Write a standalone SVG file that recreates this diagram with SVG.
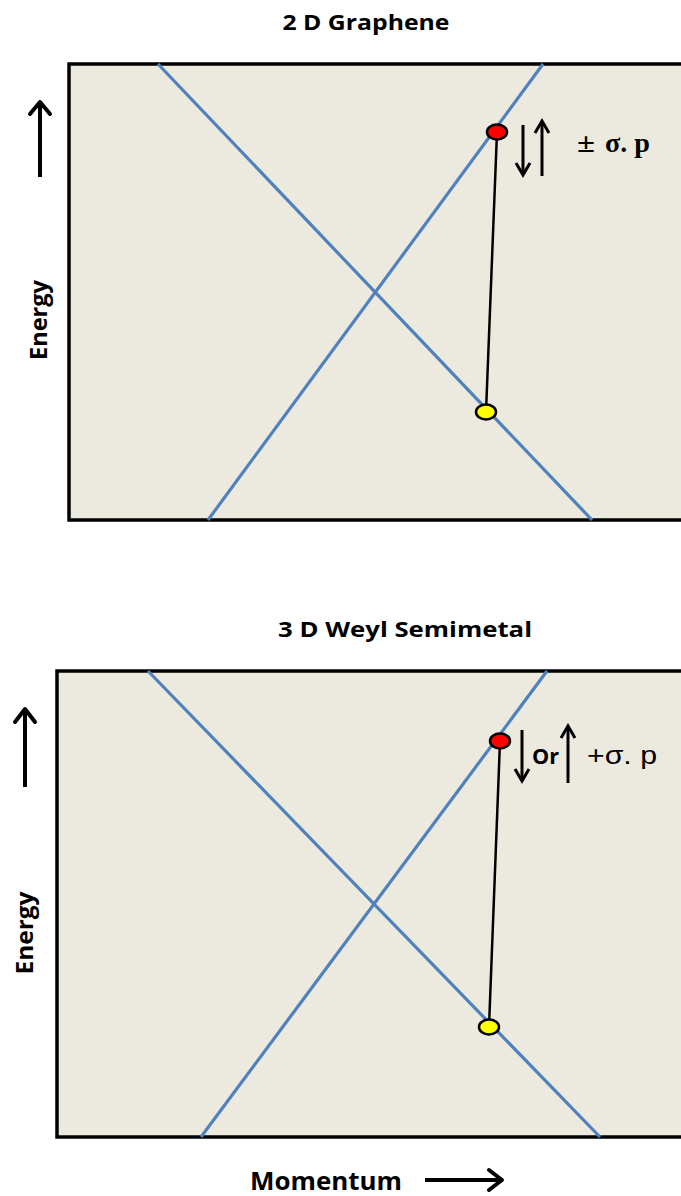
<svg xmlns="http://www.w3.org/2000/svg" width="681" height="1196" viewBox="0 0 681 1196">
<style>
.panel{fill:#ECE9DF;stroke:#000;stroke-width:3.5}
.band{stroke:#4F81BD;stroke-width:3.2;fill:none}
.ax{stroke:#000;stroke-width:4;fill:none}
.axh{stroke:#000;stroke-width:4;fill:none;stroke-linecap:round;stroke-linejoin:round}
.sp{stroke:#000;stroke-width:3;fill:none}
.sph{stroke:#000;stroke-width:3;fill:none;stroke-linejoin:miter}
.link{stroke:#000;stroke-width:2.5;fill:none}
.t{font-family:"Open Sans","Liberation Sans",sans-serif;font-weight:bold;fill:#000}
</style>

<g id="panel-graphene">
<rect class="panel" x="69" y="64" width="640" height="456"/>
<text class="t" x="366" y="30" font-size="22" text-anchor="middle" textLength="167" lengthAdjust="spacingAndGlyphs">2 D Graphene</text>
</g>
<g id="bands-graphene">
<line class="band" x1="158" y1="64" x2="592" y2="520"/>
<line class="band" x1="208" y1="520" x2="543" y2="64"/>
</g>
<g id="axis-energy-top">
<line class="ax" x1="40" y1="177" x2="40" y2="104"/>
<path class="axh" d="M30,114 L40,102 L50,114"/>
<text class="t" font-size="24" text-anchor="middle" textLength="80" lengthAdjust="spacingAndGlyphs" transform="translate(47,320) rotate(-90)">Energy</text>
</g>

<g id="panel-weyl">
<rect class="panel" x="57" y="671" width="650" height="466"/>
<text class="t" x="405" y="637" font-size="22" text-anchor="middle" textLength="254" lengthAdjust="spacingAndGlyphs">3 D Weyl Semimetal</text>
</g>
<g id="bands-weyl">
<line class="band" x1="148" y1="671" x2="600" y2="1137"/>
<line class="band" x1="201" y1="1137" x2="547" y2="671"/>
</g>
<g id="axis-energy-bottom">
<line class="ax" x1="25" y1="787" x2="25" y2="711"/>
<path class="axh" d="M15,722 L25,709 L35,722"/>
<text class="t" font-size="24" text-anchor="middle" textLength="83" lengthAdjust="spacingAndGlyphs" transform="translate(33,933) rotate(-90)">Energy</text>
</g>
<g id="axis-momentum">
<text class="t" x="250" y="1190" font-size="25" textLength="152" lengthAdjust="spacingAndGlyphs">Momentum</text>
<line class="ax" x1="425" y1="1180" x2="500" y2="1180"/>
<path class="axh" d="M489,1170 L502,1180 L489,1190"/>
</g>

<g id="connectors">
<line class="link" x1="497" y1="132" x2="486" y2="412"/>
<line class="link" x1="500" y1="741" x2="489" y2="1027"/>
<line class="sp" x1="523" y1="125" x2="523" y2="173"/>
<path class="sph" d="M516,163 L523,175 L530,163"/>
<line class="sp" x1="542" y1="176" x2="542" y2="123"/>
<path class="sph" d="M535,133 L542,121 L549,133"/>
<line class="sp" x1="522" y1="730" x2="522" y2="779"/>
<path class="sph" d="M515,769 L522,781 L529,769"/>
<line class="sp" x1="568" y1="783" x2="568" y2="728"/>
<path class="sph" d="M561,738 L568,726 L575,738"/>
</g>

<g id="electron-top">
<ellipse cx="497" cy="132" rx="10" ry="7.5" fill="#FF0000" stroke="#000" stroke-width="2.5"/>
</g>
<g id="hole-top">
<ellipse cx="486" cy="412" rx="10" ry="7.5" fill="#FFFF00" stroke="#000" stroke-width="2.5"/>
</g>
<g id="electron-bottom">
<ellipse cx="500" cy="741" rx="10" ry="7.5" fill="#FF0000" stroke="#000" stroke-width="2.5"/>
</g>
<g id="hole-bottom">
<ellipse cx="489" cy="1027" rx="10" ry="7.5" fill="#FFFF00" stroke="#000" stroke-width="2.5"/>
</g>

<g id="label-top">
<text y="152" font-family="'Liberation Serif',serif" font-size="27" font-weight="bold"><tspan x="577" textLength="18" lengthAdjust="spacingAndGlyphs">±</tspan><tspan x="605" textLength="45" lengthAdjust="spacingAndGlyphs">σ. p</tspan></text>
</g>
<g id="label-bottom">
<text class="t" x="532" y="764" font-size="21" textLength="27" lengthAdjust="spacingAndGlyphs">Or</text>
<text x="587" y="764" font-family="'Liberation Sans',sans-serif" font-size="25" textLength="70" lengthAdjust="spacingAndGlyphs">+σ. p</text>
</g>
</svg>
